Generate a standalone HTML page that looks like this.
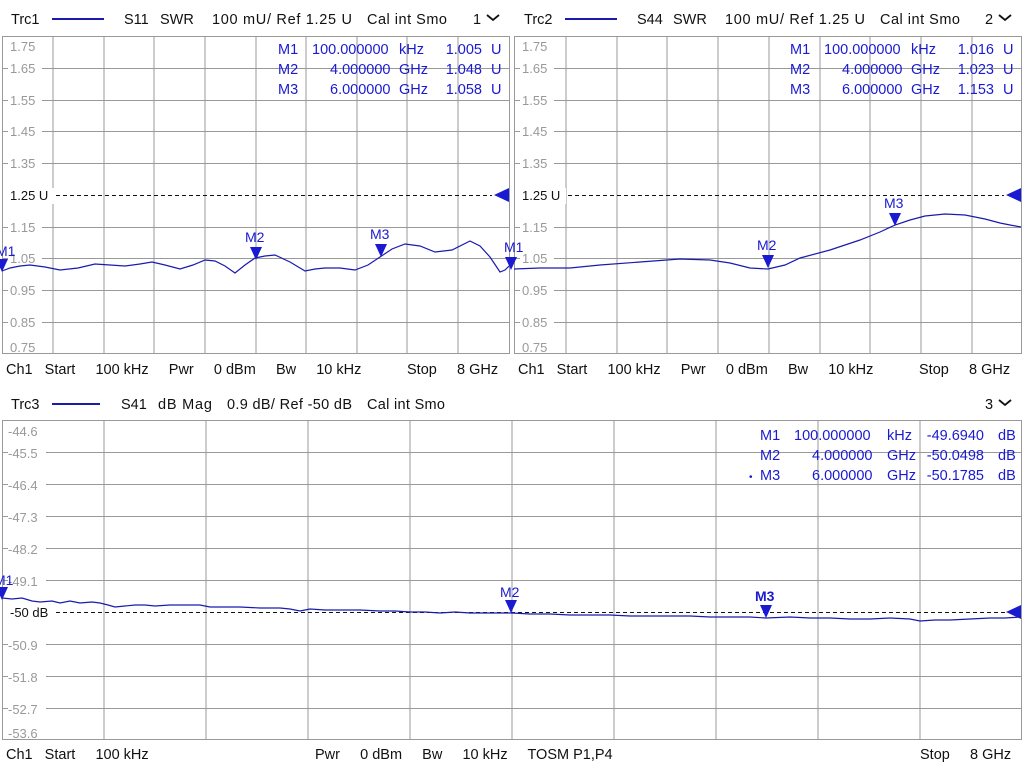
<!DOCTYPE html>
<html><head><meta charset="utf-8"><style>
html,body{margin:0;padding:0;background:#fff;width:1024px;height:768px;overflow:hidden}
svg{display:block}
text{font-family:"Liberation Sans",sans-serif;white-space:pre}
.h{font-size:14.5px;fill:#111}
.t{font-size:13px;fill:#999}
.tb{font-size:13px;fill:#111}
.m{font-size:14.5px;fill:#1a1ad0}
.ml{font-size:14px;fill:#1a1ad0}
.g{stroke:#999;stroke-width:1;fill:none}
.tr{stroke:#1a1ab0;stroke-width:1.2;fill:none}
.ref{stroke:#111;stroke-width:1;stroke-dasharray:4,3}
</style></head><body>
<svg width="1024" height="768" viewBox="0 0 1024 768" xml:space="preserve">
<rect width="1024" height="768" fill="#fff"/>
<g class="h">
<text x="11" y="24">Trc1</text>
<text x="124" y="24">S11</text><text x="160" y="24">SWR</text><text x="212" y="24" textLength="140">100 mU/ Ref 1.25 U</text><text x="367" y="24" textLength="80">Cal int Smo</text>
<text x="473" y="24">1</text>
<text x="524" y="24">Trc2</text>
<text x="637" y="24">S44</text><text x="673" y="24">SWR</text><text x="725" y="24" textLength="140">100 mU/ Ref 1.25 U</text><text x="880" y="24" textLength="80">Cal int Smo</text>
<text x="985" y="24">2</text>
<text x="11" y="409">Trc3</text>
<text x="121" y="409">S41</text><text x="158" y="409" textLength="54">dB Mag</text><text x="227" y="409" textLength="125">0.9 dB/ Ref -50 dB</text><text x="367" y="409" textLength="78">Cal int Smo</text>
<text x="985" y="409">3</text>
</g>
<line x1="52" y1="19" x2="104" y2="19" stroke="#1a1ab0" stroke-width="2"/>
<path d="M487 15 l6 5 l6 -5" stroke="#111" stroke-width="1.8" fill="none"/>
<line x1="565" y1="19" x2="617" y2="19" stroke="#1a1ab0" stroke-width="2"/>
<path d="M999 15 l6 5 l6 -5" stroke="#111" stroke-width="1.8" fill="none"/>
<line x1="52" y1="404" x2="100" y2="404" stroke="#1a1ab0" stroke-width="2"/>
<path d="M999 400 l6 5 l6 -5" stroke="#111" stroke-width="1.8" fill="none"/>

<g class="g">
<rect x="2.5" y="36.5" width="507" height="317"/>
<path d="M53 36V354M104 36V354M154 36V354M205 36V354M256 36V354M306 36V354M357 36V354M407 36V354M458 36V354
M2 68.5H509M2 100.5H509M2 131.5H509M2 163.5H509M2 227.5H509M2 258.5H509M2 290.5H509M2 322.5H509"/>
<rect x="514.5" y="36.5" width="507" height="317"/>
<path d="M566 36V354M617 36V354M667 36V354M718 36V354M769 36V354M820 36V354M870 36V354M921 36V354M972 36V354
M514 68.5H1021M514 100.5H1021M514 131.5H1021M514 163.5H1021M514 227.5H1021M514 258.5H1021M514 290.5H1021M514 322.5H1021"/>
<rect x="2.5" y="420.5" width="1019" height="319"/>
<path d="M104 420V740M206 420V740M308 420V740M410 420V740M512 420V740M614 420V740M716 420V740M818 420V740M920 420V740
M2 452.5H1021M2 484.5H1021M2 516.5H1021M2 548.5H1021M2 580.5H1021M2 644.5H1021M2 676.5H1021M2 708.5H1021"/>
</g>
<g fill="#fff">
<rect x="8" y="38" width="34" height="16"/><rect x="8" y="61" width="34" height="16"/><rect x="8" y="93" width="34" height="16"/><rect x="8" y="124" width="34" height="16"/><rect x="8" y="156" width="34" height="16"/><rect x="8" y="188" width="46" height="16"/><rect x="8" y="220" width="34" height="16"/><rect x="8" y="251" width="34" height="16"/><rect x="8" y="283" width="34" height="16"/><rect x="8" y="315" width="34" height="16"/><rect x="8" y="339" width="34" height="14"/>
<rect x="520" y="38" width="34" height="16"/><rect x="520" y="61" width="34" height="16"/><rect x="520" y="93" width="34" height="16"/><rect x="520" y="124" width="34" height="16"/><rect x="520" y="156" width="34" height="16"/><rect x="520" y="188" width="46" height="16"/><rect x="520" y="220" width="34" height="16"/><rect x="520" y="251" width="34" height="16"/><rect x="520" y="283" width="34" height="16"/><rect x="520" y="315" width="34" height="16"/><rect x="520" y="339" width="34" height="14"/>
<rect x="8" y="422" width="38" height="16"/><rect x="8" y="445" width="38" height="16"/><rect x="8" y="477" width="38" height="16"/><rect x="8" y="509" width="38" height="16"/><rect x="8" y="541" width="38" height="16"/><rect x="8" y="573" width="38" height="16"/><rect x="8" y="605" width="46" height="16"/><rect x="8" y="637" width="38" height="16"/><rect x="8" y="669" width="38" height="16"/><rect x="8" y="701" width="38" height="16"/><rect x="8" y="725" width="38" height="14"/>
</g>
<g class="t">
<text x="10" y="51">1.75</text><text x="10" y="73">1.65</text><text x="10" y="105">1.55</text><text x="10" y="136">1.45</text><text x="10" y="168">1.35</text><text x="10" y="232">1.15</text><text x="10" y="263">1.05</text><text x="10" y="295">0.95</text><text x="10" y="327">0.85</text><text x="10" y="352">0.75</text>
<text x="522" y="51">1.75</text><text x="522" y="73">1.65</text><text x="522" y="105">1.55</text><text x="522" y="136">1.45</text><text x="522" y="168">1.35</text><text x="522" y="232">1.15</text><text x="522" y="263">1.05</text><text x="522" y="295">0.95</text><text x="522" y="327">0.85</text><text x="522" y="352">0.75</text>
<text x="8" y="436">-44.6</text><text x="8" y="458">-45.5</text><text x="8" y="490">-46.4</text><text x="8" y="522">-47.3</text><text x="8" y="554">-48.2</text><text x="8" y="586">-49.1</text><text x="8" y="650">-50.9</text><text x="8" y="682">-51.8</text><text x="8" y="714">-52.7</text><text x="8" y="738">-53.6</text>
</g>
<g class="tb">
<text x="10" y="200">1.25 U</text><text x="522" y="200">1.25 U</text><text x="10" y="617">-50 dB</text>
</g>
<path class="ref" d="M56 195.5H492M568 195.5H1004M56 612.5H1006"/>
<path d="M509 188 L494 195 L509 202Z M1021 188 L1006 195 L1021 202Z M1021 605 L1006 612 L1021 619Z" fill="#1a1ad0"/>

<g class="m">
<text x="278" y="54">M1</text><text x="312" y="54">100.000000</text><text x="399" y="54">kHz</text><text x="482" y="54" text-anchor="end">1.005</text><text x="491" y="54">U</text>
<text x="278" y="74">M2</text><text x="330" y="74">4.000000</text><text x="399" y="74">GHz</text><text x="482" y="74" text-anchor="end">1.048</text><text x="491" y="74">U</text>
<text x="278" y="94">M3</text><text x="330" y="94">6.000000</text><text x="399" y="94">GHz</text><text x="482" y="94" text-anchor="end">1.058</text><text x="491" y="94">U</text>
<text x="790" y="54">M1</text><text x="824" y="54">100.000000</text><text x="911" y="54">kHz</text><text x="994" y="54" text-anchor="end">1.016</text><text x="1003" y="54">U</text>
<text x="790" y="74">M2</text><text x="842" y="74">4.000000</text><text x="911" y="74">GHz</text><text x="994" y="74" text-anchor="end">1.023</text><text x="1003" y="74">U</text>
<text x="790" y="94">M3</text><text x="842" y="94">6.000000</text><text x="911" y="94">GHz</text><text x="994" y="94" text-anchor="end">1.153</text><text x="1003" y="94">U</text>
<text x="760" y="440">M1</text><text x="794" y="440">100.000000</text><text x="887" y="440">kHz</text><text x="984" y="440" text-anchor="end">-49.6940</text><text x="998" y="440">dB</text>
<text x="760" y="460">M2</text><text x="812" y="460">4.000000</text><text x="887" y="460">GHz</text><text x="984" y="460" text-anchor="end">-50.0498</text><text x="998" y="460">dB</text>
<text x="749" y="480" font-size="10">•</text><text x="760" y="480">M3</text><text x="812" y="480">6.000000</text><text x="887" y="480">GHz</text><text x="984" y="480" text-anchor="end">-50.1785</text><text x="998" y="480">dB</text>
</g>

<polyline class="tr" points="2,271 10,268 20,266 30,265 45,267 60,270 78,268 95,264 110,265 125,266 140,264 152,262 165,265 180,269 193,265 205,260 215,261 225,266 235,273 245,265 255,258 265,256 275,255 290,262 305,271 315,269 325,268 340,268 355,270 368,265 380,257 392,249 405,244 420,246 435,252 452,250 470,241 480,246 490,257 500,272 505,270 509,266"/>
<polyline class="tr" points="514,269 540,268 570,268 600,265 640,262 680,259 710,260 730,263 750,268 768,269 785,265 800,258 830,250 860,240 880,232 895,225 910,220 925,216 945,214 965,215 985,219 1000,223 1010,225 1021,227"/>
<polyline class="tr" points="2,598 12,599 22,598 32,601 40,602 52,601 60,603 70,601 80,603 92,602 100,603 108,605 115,607 125,606 135,605 145,605 155,606 170,605 185,605 200,605 210,607 225,607 240,607 260,608 280,608 290,609 300,611 310,609 325,610 340,610 360,610 380,611 395,611 410,612 425,612 440,613 455,612 470,613 485,613 500,613 512,613 530,614 550,614 570,615 590,615 610,615 630,616 650,616 670,616 690,616 710,617 730,617 750,617 766,618 790,617 810,618 830,618 850,619 870,619 890,618 910,619 920,621 935,620 950,620 970,619 990,618 1005,618 1021,617"/>

<g fill="#1a1ad0">
<path d="M-4,259 L8,259 L2,272Z"/><path d="M250,247 L262,247 L256,260Z"/><path d="M375,244 L387,244 L381,257Z"/><path d="M505,257 L517,257 L511,270Z"/>
<path d="M762,255 L774,255 L768,268Z"/><path d="M889,213 L901,213 L895,226Z"/>
<path d="M-4,587 L8,587 L2,600Z"/><path d="M505,600 L517,600 L511,613Z"/><path d="M760,605 L772,605 L766,618Z"/>
</g>
<g class="ml">
<text x="-4" y="256">M1</text><text x="245" y="242">M2</text><text x="370" y="239">M3</text><text x="504" y="252">M1</text>
<text x="757" y="250">M2</text><text x="884" y="208">M3</text>
<text x="-6" y="585">M1</text><text x="500" y="597">M2</text><text x="755" y="601" font-weight="bold">M3</text>
</g>

<g class="h">
<text x="6" y="374">Ch1   Start     100 kHz     Pwr     0 dBm     Bw     10 kHz</text>
<text x="407" y="374">Stop     8 GHz</text>
<text x="518" y="374">Ch1   Start     100 kHz     Pwr     0 dBm     Bw     10 kHz</text>
<text x="919" y="374">Stop     8 GHz</text>
<text x="6" y="759">Ch1   Start     100 kHz</text>
<text x="315" y="759">Pwr     0 dBm     Bw     10 kHz     TOSM P1,P4</text>
<text x="920" y="759">Stop     8 GHz</text>
</g>
</svg>
</body></html>
